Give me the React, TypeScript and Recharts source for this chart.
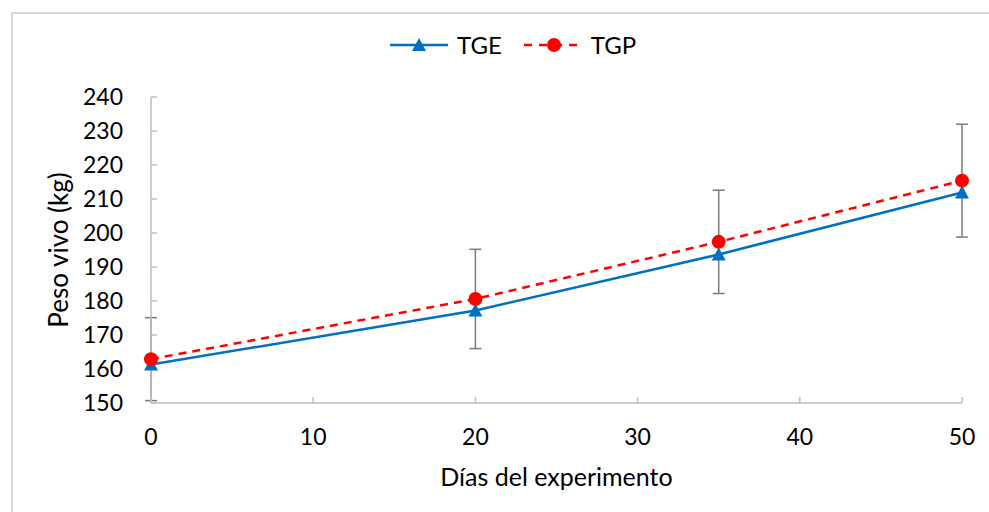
import { ErrorBar, Line, LineChart, XAxis, YAxis } from "recharts";

// Days of the experiment and live weight (kg) for each group
const days = [0, 20, 35, 50];
const tge = [161.3, 177.2, 193.7, 211.9];
const tgp = [162.9, 180.6, 197.4, 215.4];
const tgpErr = [12.2, 14.6, 15.2, 16.6];

const xTicks = [0, 10, 20, 30, 40, 50];
const yTicks = [150, 160, 170, 180, 190, 200, 210, 220, 230, 240];

const FONT = "Lato, 'Open Sans', sans-serif";
const AXIS = "#bfbfbf";
const BLUE = "#0070c0";
const RED = "#ff0000";

const data = days.map((d, i) => ({ day: d, TGE: tge[i], TGP: tgp[i], err: tgpErr[i] }));

function Triangle(props: any) {
  const { cx, cy } = props;
  if (cx == null || cy == null) return null;
  return <path d={`M${cx},${cy - 7} L${cx + 7},${cy + 6} L${cx - 7},${cy + 6} Z`} fill={BLUE} />;
}

function LegendBox() {
  return (
    <div style={{ position: "absolute", left: 390, top: 30, display: "flex", alignItems: "center", fontFamily: FONT, fontSize: 24, color: "#000", lineHeight: "30px" }}>
      <svg width={58} height={20}>
        <line x1={0} y1={10} x2={58} y2={10} stroke={BLUE} strokeWidth={2.5} />
        <path d="M29,3 L36,16 L22,16 Z" fill={BLUE} />
      </svg>
      <span style={{ marginLeft: 9, marginRight: 22 }}>TGE</span>
      <svg width={58} height={20}>
        <line x1={0} y1={10} x2={58} y2={10} stroke={RED} strokeWidth={2.5} strokeDasharray="8 7" />
        <circle cx={30} cy={10} r={7} fill={RED} />
      </svg>
      <span style={{ marginLeft: 9 }}>TGP</span>
    </div>
  );
}

export default function App() {
  return (
    <div style={{ position: "absolute", left: 0, top: 0, width: 989, height: 512, background: "#fff", overflow: "hidden" }}>
      <div style={{ position: "absolute", left: 11, top: 12, width: 1000, height: 520, borderTop: "2px solid #d9d9d9", borderLeft: "2px solid #d9d9d9" }} />
      <LegendBox />
      <LineChart width={989} height={512} data={data} margin={{ top: 97, right: 27, bottom: 0, left: 71 }} style={{ position: "absolute", left: 0, top: 0 }}>
        <XAxis
          type="number"
          dataKey="day"
          domain={[0, 50]}
          ticks={xTicks}
          height={109}
          tickSize={-6}
          tickMargin={32}
          stroke={AXIS}
          strokeWidth={1.5}
          tick={{ fill: "#000", fontSize: 23, fontFamily: FONT }}
          label={{ value: "Días del experimento", position: "insideBottom", offset: 26, fill: "#000", fontSize: 25, fontFamily: FONT }}
        />
        <YAxis
          type="number"
          domain={[150, 240]}
          ticks={yTicks}
          width={80}
          tickSize={-6}
          tickMargin={34}
          stroke={AXIS}
          strokeWidth={1.5}
          tick={{ fill: "#000", fontSize: 23, fontFamily: FONT }}
          label={{ value: "Peso vivo (kg)", angle: -90, position: "insideLeft", offset: -12, fill: "#000", fontSize: 26, fontFamily: FONT, style: { textAnchor: "middle" } }}
        />
        <Line
          dataKey="TGE"
          stroke={BLUE}
          strokeWidth={2.5}
          dot={<Triangle />}
          activeDot={false}
          isAnimationActive={false}
        />
        <Line
          dataKey="TGP"
          stroke={RED}
          strokeWidth={2.5}
          strokeDasharray="8 6"
          dot={{ r: 7, fill: RED, stroke: "none" }}
          activeDot={false}
          isAnimationActive={false}
        >
          <ErrorBar dataKey="err" direction="y" width={6} stroke="#7a7a7a" strokeWidth={1.5} />
        </Line>
      </LineChart>
    </div>
  );
}
